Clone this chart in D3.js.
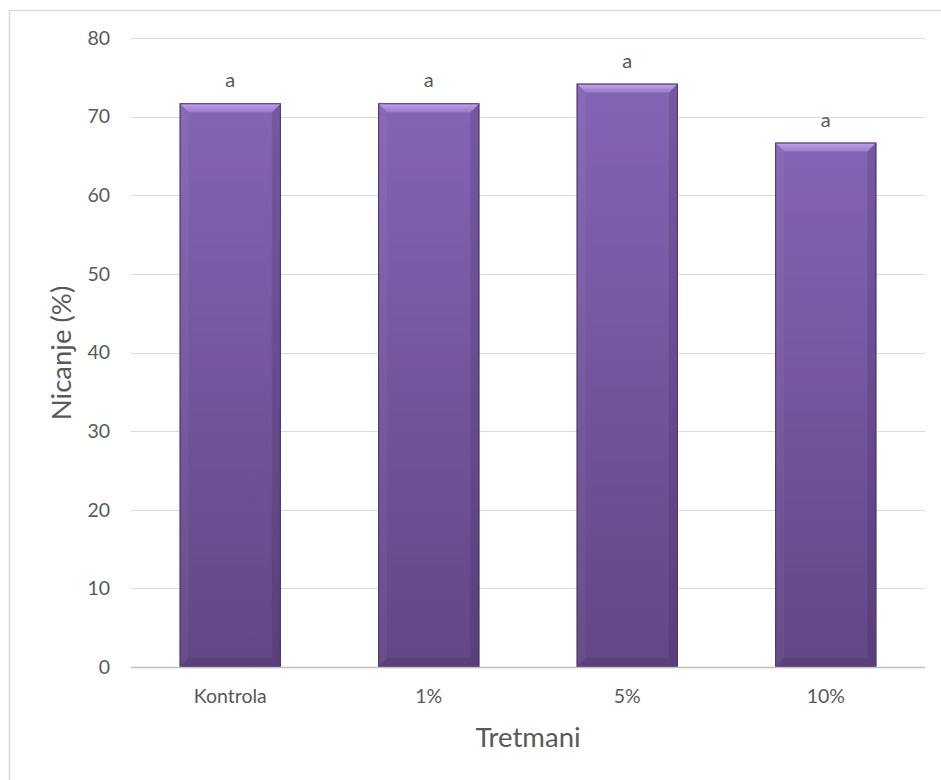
<!DOCTYPE html>
<html>
<head>
<meta charset="utf-8">
<script src="https://cdn.jsdelivr.net/npm/d3@7"></script>
<style>
  html, body { margin: 0; padding: 0; background: #fff; }
  svg { display: block; }
  text { font-family: "Lato", "Open Sans", "DejaVu Sans", sans-serif; fill: #595959; }
</style>
</head>
<body>
<svg id="chart" width="941" height="780"></svg>
<script>
const categories = ["Kontrola", "1%", "5%", "10%"];
const values = [71.7, 71.7, 74.2, 66.7];
const letters = ["a", "a", "a", "a"];
const yTicks = [0, 10, 20, 30, 40, 50, 60, 70, 80];
const yTitle = "Nicanje (%)";
const xTitle = "Tretmani";

(function () {
const svg = d3.select("#chart");
const W = 941, H = 780;
const pLeft = 131, pRight = 925, pTop = 38, pBottom = 667;

// outer frame
svg.append("rect").attr("x", 9.5).attr("y", 10.5).attr("width", W + 10).attr("height", H + 10)
  .attr("fill", "#fff").attr("stroke", "#d9d9d9").attr("stroke-width", 1.5);

const x = d3.scaleBand().domain(categories).range([pLeft, pRight]).paddingInner(0).paddingOuter(0);
const y = d3.scaleLinear().domain([0, 80]).range([pBottom, pTop]);
const barW = x.bandwidth() * 0.51;

// gridlines
const grid = svg.append("g");
grid.selectAll("line").data(yTicks.filter(d => d > 0)).enter().append("line")
  .attr("x1", pLeft).attr("x2", pRight)
  .attr("y1", d => Math.round(y(d)) + 0.5).attr("y2", d => Math.round(y(d)) + 0.5)
  .attr("stroke", "#d9d9d9").attr("stroke-width", 1);

// y axis labels
const yAxis = d3.axisLeft(y).tickValues(yTicks).tickSize(0).tickPadding(0);
const gy = svg.append("g").attr("transform", `translate(${pLeft - 21},0)`).call(yAxis);
gy.select(".domain").remove();
gy.selectAll("text").attr("font-size", 19.5).attr("fill", "#595959")
  .style("font-family", '"Lato", "Open Sans", sans-serif');

// defs gradients
const defs = svg.append("defs");
const g1 = defs.append("linearGradient").attr("id", "barGrad").attr("x1", 0).attr("y1", 0).attr("x2", 0).attr("y2", 1);
g1.append("stop").attr("offset", "0%").attr("stop-color", "#8464b5");
g1.append("stop").attr("offset", "100%").attr("stop-color", "#634685");
const gTop = defs.append("linearGradient").attr("id", "topGrad").attr("x1", 0).attr("y1", 0).attr("x2", 0).attr("y2", 1);
gTop.append("stop").attr("offset", "0%").attr("stop-color", "#c0a4ec");
gTop.append("stop").attr("offset", "100%").attr("stop-color", "#9a7acb");

const bars = svg.append("g");
const b = 9;
categories.forEach((c, i) => {
  const x0 = x(c) + (x.bandwidth() - barW) / 2;
  const x1 = x0 + barW;
  const y0 = y(values[i]);
  const y1 = y(0);
  const g = bars.append("g");
  g.append("rect").attr("x", x0).attr("y", y0).attr("width", barW).attr("height", y1 - y0)
    .attr("fill", "url(#barGrad)");
  g.append("polygon").attr("points", `${x0},${y0} ${x0 + b},${y0 + b} ${x0 + b},${y1 - b} ${x0},${y1}`)
    .attr("fill", "#ffffff").attr("opacity", 0.04);
  g.append("polygon").attr("points", `${x1},${y0} ${x1 - b},${y0 + b} ${x1 - b},${y1 - b} ${x1},${y1}`)
    .attr("fill", "#2a1a45").attr("opacity", 0.16);
  g.append("polygon").attr("points", `${x0},${y1} ${x0 + b},${y1 - b} ${x1 - b},${y1 - b} ${x1},${y1}`)
    .attr("fill", "#2a1a45").attr("opacity", 0.12);
  g.append("polygon").attr("points", `${x0},${y0} ${x1},${y0} ${x1 - b},${y0 + b} ${x0 + b},${y0 + b}`)
    .attr("fill", "url(#topGrad)");
  g.append("rect").attr("x", x0 + 0.5).attr("y", y0 + 0.5).attr("width", barW - 1).attr("height", y1 - y0 - 1)
    .attr("fill", "none").attr("stroke", "#4b3569").attr("stroke-width", 1);
  svg.append("text").attr("x", x(c) + x.bandwidth() / 2).attr("y", y0 - 16)
    .attr("text-anchor", "middle").attr("font-size", 20).attr("fill", "#404040").text(letters[i]);
});

// x axis
svg.append("line").attr("x1", pLeft).attr("x2", pRight).attr("y1", pBottom + 0.5).attr("y2", pBottom + 0.5)
  .attr("stroke", "#bfbfbf").attr("stroke-width", 1.5);
const xAxis = d3.axisBottom(x).tickSize(0).tickPadding(0);
const gx = svg.append("g").attr("transform", `translate(0,${pBottom + 22})`).call(xAxis);
gx.select(".domain").remove();
gx.selectAll("text").attr("font-size", 19.5).attr("fill", "#595959").attr("dy", "0.71em")
  .style("font-family", '"Lato", "Open Sans", sans-serif');

// titles
svg.append("text").attr("x", (pLeft + pRight) / 2).attr("y", 747).attr("text-anchor", "middle")
  .attr("font-size", 27.5).attr("fill", "#595959").text(xTitle);
svg.append("text").attr("transform", `translate(71,353) rotate(-90)`).attr("text-anchor", "middle")
  .attr("font-size", 27.5).attr("fill", "#595959").text(yTitle);
})();
</script>
</body>
</html>
